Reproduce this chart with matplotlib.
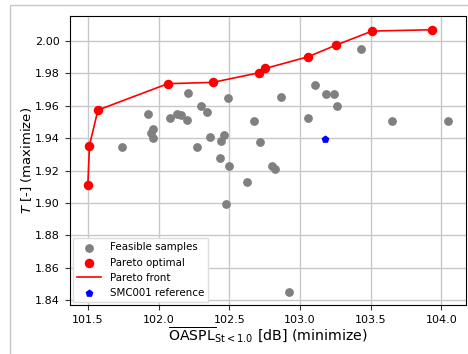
import matplotlib
matplotlib.use("Agg")
import matplotlib.pyplot as plt
from matplotlib.patches import Rectangle

# Feasible samples: (OASPL, T)
feasible_oaspl = [101.928, 101.742, 101.945, 101.963, 101.959, 102.083, 102.128, 102.159,
                  102.201, 102.210, 102.300, 102.340, 102.274, 102.366, 102.491, 102.439,
                  102.465, 102.432, 102.496, 102.475, 102.677, 102.719, 102.625, 102.799,
                  102.825, 102.863, 103.058, 103.105, 103.183, 103.242, 103.258, 103.428,
                  103.649, 104.044, 102.924]
feasible_t = [1.9552, 1.9346, 1.9433, 1.9455, 1.9400, 1.9522, 1.9552, 1.9546,
              1.9515, 1.9677, 1.9600, 1.9561, 1.9346, 1.9410, 1.9647, 1.9381,
              1.9423, 1.9280, 1.9227, 1.8996, 1.9506, 1.9377, 1.9132, 1.9229,
              1.9209, 1.9654, 1.9526, 1.9730, 1.9673, 1.9675, 1.9600, 1.9951,
              1.9506, 1.9508, 1.8450]

# Pareto-optimal designs, sorted by OASPL
pareto_oaspl = [101.500, 101.511, 101.571, 102.065, 102.383, 102.708, 102.754,
                103.056, 103.254, 103.510, 103.930]
pareto_t = [1.9114, 1.9355, 1.9574, 1.9737, 1.9745, 1.9804, 1.9831,
            1.9903, 1.9975, 2.0062, 2.0070]

# Baseline nozzle
ref_oaspl = [103.178]
ref_t = [1.9394]

x_ticks = [101.5, 102.0, 102.5, 103.0, 103.5, 104.0]
y_ticks = [1.84, 1.86, 1.88, 1.90, 1.92, 1.94, 1.96, 1.98, 2.00]

W, H = 468, 354
fig = plt.figure(figsize=(W / 100, H / 100), dpi=100)

# frame of the surrounding panel
fig.patches.append(Rectangle((10 / W, -0.1), 1.2, 1 - 5 / H + 0.1,
                             transform=fig.transFigure, fill=False,
                             edgecolor="#c8c8c8", linewidth=1.0))

ax = fig.add_axes([69.5 / W, 1 - 305 / H, (465.5 - 69.5) / W, (305 - 16) / H])

ax.grid(True, color="#c8c8c8", linewidth=1.0, zorder=0)
ax.set_axisbelow(True)

ax.scatter(feasible_oaspl, feasible_t, s=28, color="gray", label="Feasible samples", zorder=2)
ax.scatter(pareto_oaspl, pareto_t, s=34, color="red", label="Pareto optimal", zorder=3)
ax.plot(pareto_oaspl, pareto_t, color="red", linewidth=1.2, label="Pareto front", zorder=3)
ax.scatter(ref_oaspl, ref_t, s=22, color="blue", marker="p", label="SMC001 reference", zorder=4)

ax.set_xlim(101.37, 104.17)
ax.set_ylim(1.837, 2.0155)
ax.set_xticks(x_ticks)
ax.set_xticklabels([f"{v:.1f}" for v in x_ticks])
ax.set_yticks(y_ticks)
ax.set_yticklabels([f"{v:.2f}" for v in y_ticks])
ax.tick_params(labelsize=8, length=3.5, color="#333333")

ax.set_xlabel(r"$\overline{\mathrm{OASPL}}_{\mathrm{St}<1.0}$ [dB] (minimize)", fontsize=10.2, labelpad=1)
ax.set_ylabel(r"$T$ [-] (maximize)", fontsize=9.5, labelpad=1)

ax.legend(loc="lower left", fontsize=7.4, borderaxespad=0.3, handlelength=2.4,
          labelspacing=0.5, frameon=True, fancybox=False, edgecolor="#dddddd",
          framealpha=1.0)

fig.text(0.53, 1 + 4 / H, "Objective space (sampled population)", fontsize=11,
         ha="center", va="baseline")

fig.savefig("out.png", dpi=100)
